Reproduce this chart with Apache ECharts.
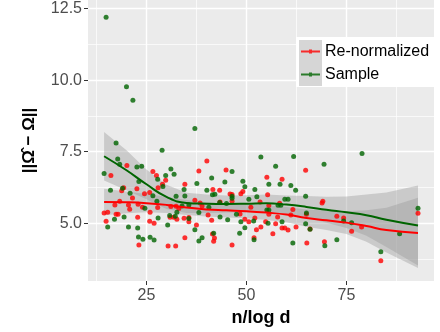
<!DOCTYPE html>
<html>
<head>
<meta charset="utf-8">
<script src="https://cdn.jsdelivr.net/npm/echarts@6/dist/echarts.min.js"></script>
<style>
  html, body { margin: 0; padding: 0; background: #fff; }
  #chart { width: 440px; height: 332px; }
</style>
</head>
<body>
<div id="chart"></div>
<script>
// 散点数据 [x, y]
var renormPoints = [
  [20.1, 7.02], [16.1, 6.67], [26.6, 6.81], [27.5, 6.67], [29.8, 6.50], [29.0, 6.36],
  [27.9, 6.24], [19.3, 6.24], [18.8, 6.13], [22.6, 6.20], [24.5, 6.03], [25.8, 6.07],
  [18.3, 5.77], [21.5, 5.88], [17.1, 5.64], [20.5, 5.64], [22.9, 5.66], [20.8, 5.49],
  [24.0, 5.56], [25.9, 5.38], [27.8, 5.55], [31.1, 5.58], [32.4, 5.59], [14.4, 5.36],
  [15.3, 5.38], [17.4, 5.31], [17.9, 5.31], [14.9, 5.07], [22.8, 5.21], [25.8, 5.07],
  [26.9, 5.00], [30.9, 5.21], [31.8, 5.21], [32.6, 5.14], [23.1, 4.24], [30.4, 4.20],
  [32.3, 4.20], [40.1, 7.17], [44.9, 6.86], [38.1, 6.82], [34.6, 6.36], [41.6, 6.18],
  [43.3, 6.15], [48.6, 6.03], [49.1, 6.11], [45.9, 6.02], [46.4, 6.00], [37.1, 5.80],
  [38.4, 5.71], [43.4, 5.74], [46.4, 5.77], [53.4, 5.74], [51.1, 5.56], [38.9, 5.60],
  [33.1, 5.51], [40.4, 5.29], [48.4, 5.32], [34.4, 5.17], [35.6, 5.20], [35.6, 5.05],
  [41.3, 5.10], [49.6, 5.14], [50.6, 5.05], [52.1, 5.18], [37.5, 4.94], [53.6, 4.87],
  [52.5, 4.77], [41.5, 4.62], [42.0, 4.48], [41.8, 4.37], [34.6, 4.49], [51.9, 4.49],
  [46.4, 4.24], [64.8, 6.85], [55.1, 6.61], [58.9, 6.54], [55.3, 5.99], [69.1, 5.77],
  [68.9, 5.71], [58.3, 5.70], [55.6, 5.62], [61.6, 5.48], [55.6, 5.31], [57.8, 5.22],
  [61.1, 5.29], [65.0, 5.31], [72.6, 5.24], [74.3, 5.18], [54.8, 5.05], [57.3, 4.98],
  [58.9, 4.83], [59.6, 4.83], [60.4, 4.76], [62.4, 4.87], [65.9, 4.80], [56.6, 4.63],
  [65.1, 4.31], [69.5, 4.35], [92.9, 5.35], [76.3, 4.72], [78.8, 4.87], [83.6, 3.69]
];
var samplePoints = [
  [14.9, 12.2], [20.0, 9.77], [21.6, 9.30], [17.4, 7.80], [28.9, 7.55], [14.4, 6.74],
  [17.8, 7.24], [18.3, 7.06], [22.6, 6.96], [23.8, 6.99], [31.1, 6.89], [31.9, 6.71],
  [29.8, 6.67], [27.8, 6.54], [23.1, 6.46], [29.1, 6.28], [16.0, 6.15], [19.0, 6.22],
  [20.9, 6.05], [26.6, 5.96], [32.4, 5.94], [27.6, 5.77], [24.6, 5.52], [32.6, 5.38],
  [30.8, 5.27], [32.2, 5.24], [17.0, 5.14], [19.4, 5.22], [27.9, 5.18], [15.3, 4.87],
  [20.5, 4.87], [22.8, 4.83], [30.3, 4.94], [23.0, 4.52], [24.1, 4.44], [25.9, 4.51],
  [26.9, 4.41], [37.1, 8.31], [53.6, 7.31], [46.4, 6.81], [41.3, 6.58], [37.6, 6.39],
  [44.6, 6.44], [49.1, 6.47], [49.6, 6.27], [34.4, 6.18], [40.1, 6.15], [52.1, 6.18],
  [34.6, 5.95], [41.5, 5.99], [42.1, 6.01], [46.4, 5.94], [46.4, 5.87], [50.6, 5.84],
  [52.6, 5.92], [33.9, 5.60], [35.6, 5.64], [40.6, 5.56], [43.3, 5.72], [45.0, 5.69],
  [38.1, 5.37], [47.5, 5.31], [35.6, 5.16], [43.4, 5.22], [45.3, 5.12], [48.6, 5.05],
  [51.8, 5.08], [49.6, 4.84], [37.1, 4.77], [41.8, 4.65], [48.3, 4.65], [38.9, 4.49],
  [38.1, 4.38], [51.9, 4.42], [61.8, 7.33], [69.4, 7.06], [57.3, 6.99], [55.6, 6.36],
  [58.4, 6.36], [61.1, 6.32], [62.3, 6.15], [64.8, 5.94], [59.6, 5.84], [60.4, 5.84],
  [57.9, 5.63], [58.6, 5.63], [55.1, 5.46], [55.6, 5.46], [65.0, 5.36], [74.3, 5.08],
  [55.4, 5.00], [58.9, 5.05], [64.8, 4.98], [65.9, 4.79], [61.6, 4.31], [72.6, 4.42],
  [69.6, 4.21], [78.9, 7.44], [92.9, 5.52], [76.3, 5.02], [88.3, 4.63], [83.6, 4.00]
];

// 平滑线及置信带
var fitX = [14.4, 20, 25, 30, 35, 40, 45, 50, 55, 60, 65, 70, 75, 80, 85, 92.9];
var renormFit = [5.74, 5.73, 5.70, 5.64, 5.55, 5.48, 5.45, 5.42, 5.37, 5.30, 5.18, 5.10, 5.02, 4.90, 4.76, 4.66];
var renormUpper = [6.20, 6.11, 6.02, 5.92, 5.81, 5.73, 5.70, 5.67, 5.63, 5.57, 5.48, 5.44, 5.42, 5.45, 5.54, 5.89];
var renormLower = [5.28, 5.35, 5.38, 5.36, 5.29, 5.23, 5.20, 5.17, 5.11, 5.03, 4.88, 4.76, 4.62, 4.35, 3.98, 3.43];
var sampleFit = [7.34, 6.85, 6.36, 5.92, 5.71, 5.68, 5.67, 5.68, 5.70, 5.65, 5.57, 5.47, 5.38, 5.28, 5.12, 4.92];
var sampleUpper = [8.19, 7.55, 6.88, 6.34, 6.06, 6.00, 5.97, 5.98, 6.00, 5.97, 5.95, 5.92, 5.93, 6.00, 6.07, 6.32];
var sampleLower = [6.49, 6.15, 5.84, 5.50, 5.36, 5.36, 5.37, 5.38, 5.40, 5.33, 5.19, 5.02, 4.83, 4.56, 4.17, 3.52];

// 刻度
var xMajor = [25, 50, 75];
var xMinor = [12.5, 37.5, 62.5, 87.5];
var yMajor = [5, 7.5, 10, 12.5];
var yMinor = [3.75, 6.25, 8.75, 11.25];

var RED = "#FF0000";
var GREEN = "#006400";
var BAND = "rgba(153,153,153,0.4)";

var zip = function (xs, ys) {
  return xs.map(function (x, i) { return [x, ys[i]]; });
};

// 置信带：用 custom 系列画多边形
var bandSeries = function (upper, lower) {
  return {
    type: "custom",
    silent: true,
    data: fitX.map(function (x, i) { return [x, lower[i], upper[i]]; }),
    encode: { x: 0, y: [1, 2] },
    renderItem: function (params, api) {
      if (params.dataIndex !== 0) return;
      var top = fitX.map(function (x, i) { return api.coord([x, upper[i]]); });
      var bottom = fitX.map(function (x, i) { return api.coord([x, lower[i]]); }).reverse();
      return {
        type: "polygon",
        shape: { points: top.concat(bottom) },
        style: { fill: BAND }
      };
    }
  };
};

var fitSeries = function (name, ys, color) {
  return {
    name: name,
    type: "line",
    data: zip(fitX, ys),
    smooth: true,
    showSymbol: false,
    silent: true,
    lineStyle: { color: color, width: 2 },
    itemStyle: { color: color }
  };
};

var FONT = "Liberation Sans, Arial, sans-serif";
var lo = { xMin: 10.375, xMax: 96.9, yMin: 2.98, yMax: 12.8 };

var chart = echarts.init(document.getElementById("chart"));
chart.setOption({
  animation: false,
  grid: {
    left: 88, right: 6, top: 0, bottom: 50,
    show: true, backgroundColor: "#EBEBEB", borderWidth: 0
  },
  legend: {
    left: 296, top: 37,
    orient: "vertical",
    padding: [3, 16, 1, 5],
    itemWidth: 19, itemHeight: 4, itemGap: 0,
    icon: "path://M0,1h8v-1h3v1h8v2h-8v1h-3v-1h-8z",
    textStyle: { fontSize: 16, color: "#000", fontFamily: FONT, lineHeight: 23 },
    data: ["Re-normalized", "Sample"]
  },
  // 图例背景和灰色图例键
  graphic: [
    { type: "rect", z: 3, shape: { x: 296, y: 37, width: 144, height: 50 }, style: { fill: "#ffffff" } },
    { type: "rect", z: 3, shape: { x: 299, y: 40, width: 23, height: 23 }, style: { fill: "#D6D6D6" } },
    { type: "rect", z: 3, shape: { x: 299, y: 63, width: 23, height: 23 }, style: { fill: "#D6D6D6" } }
  ],
  xAxis: [
    {
      type: "value", min: lo.xMin, max: lo.xMax,
      name: "n/log d", nameLocation: "middle", nameGap: 28,
      nameTextStyle: { fontSize: 18, fontWeight: "bold", color: "#000", fontFamily: FONT },
      axisLine: { show: false },
      axisTick: { show: true, length: 4, customValues: xMajor, lineStyle: { color: "#333", width: 1 } },
      axisLabel: { customValues: xMajor, fontSize: 16, color: "#4D4D4D", margin: 7, fontFamily: FONT },
      splitLine: { show: true, lineStyle: { color: "#fff", width: 1.4 } }
    },
    {
      type: "value", min: lo.xMin, max: lo.xMax, position: "bottom",
      axisLine: { show: false },
      axisTick: { show: false, customValues: xMinor },
      axisLabel: { show: false, customValues: xMinor },
      splitLine: { show: true, lineStyle: { color: "#fff", width: 0.7 } }
    }
  ],
  yAxis: [
    {
      type: "value", min: lo.yMin, max: lo.yMax,
      name: "||Ω\u0302 \u2212 Ω||", nameLocation: "middle", nameGap: 50, nameRotate: 90,
      nameTextStyle: { fontSize: 17, fontWeight: "bold", color: "#000", fontFamily: FONT },
      axisLine: { show: false },
      axisTick: { show: true, length: 4, customValues: yMajor, lineStyle: { color: "#333", width: 1 } },
      axisLabel: {
        customValues: yMajor, fontSize: 16, color: "#4D4D4D", margin: 6, fontFamily: FONT,
        formatter: function (v) { return v.toFixed(1); }
      },
      splitLine: { show: true, lineStyle: { color: "#fff", width: 1.4 } }
    },
    {
      type: "value", min: lo.yMin, max: lo.yMax, position: "left",
      axisLine: { show: false },
      axisTick: { show: false, customValues: yMinor },
      axisLabel: { show: false, customValues: yMinor },
      splitLine: { show: true, lineStyle: { color: "#fff", width: 0.7 } }
    }
  ],
  series: [
    { name: "Re-normalized", type: "scatter", data: renormPoints, symbolSize: 5, itemStyle: { color: RED } },
    { name: "Sample", type: "scatter", data: samplePoints, symbolSize: 5, itemStyle: { color: GREEN } },
    bandSeries(renormUpper, renormLower),
    fitSeries("Re-normalized", renormFit, RED),
    bandSeries(sampleUpper, sampleLower),
    fitSeries("Sample", sampleFit, GREEN)
  ]
});
</script>
</body>
</html>
